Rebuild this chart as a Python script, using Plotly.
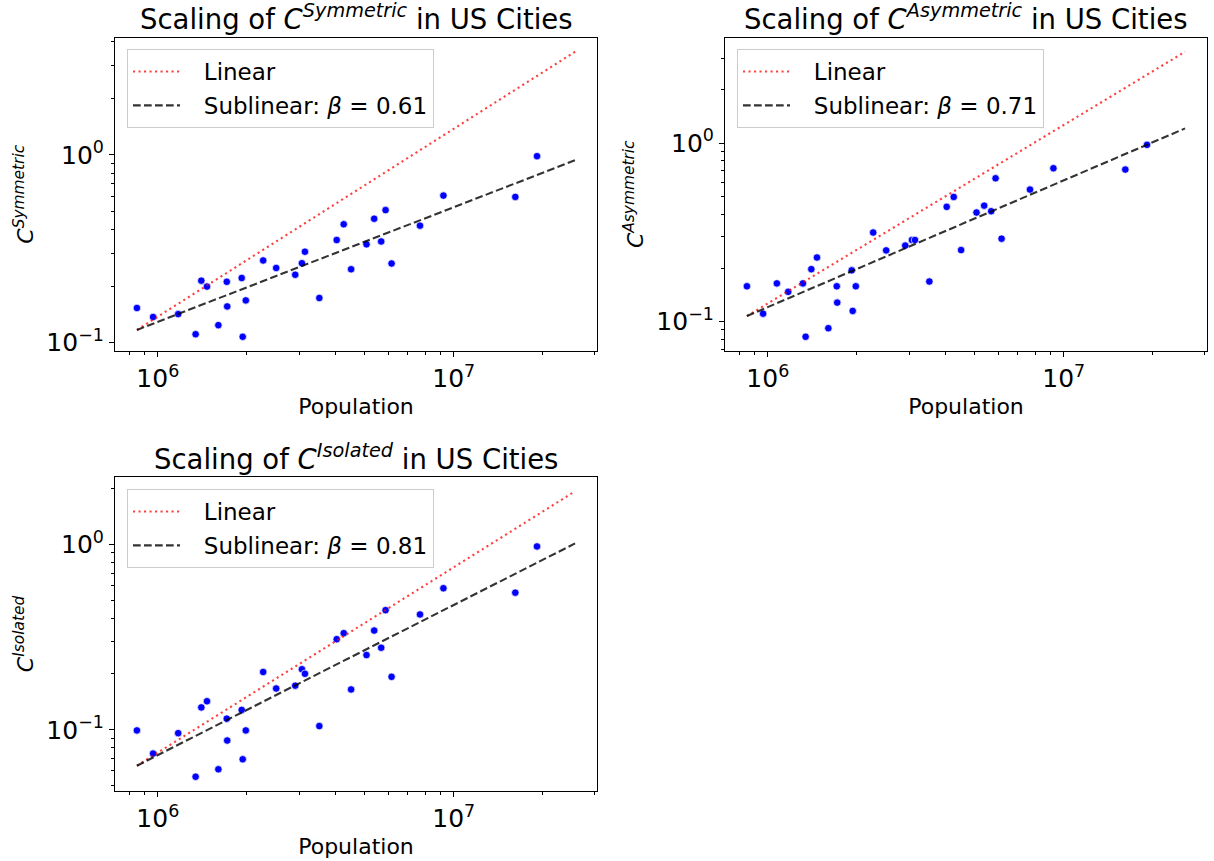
import numpy as np
import plotly.graph_objects as go

# Metro-area population and the three C measures (None = zero, not drawable on log scale)
population = [8.5e5, 9.64e5, 1.073e6, 1.172e6, 1.314e6, 1.342e6, 1.403e6, 1.466e6,
              1.602e6, 1.710e6, 1.716e6, 1.921e6, 1.936e6, 1.983e6, 2.270e6, 2.512e6,
              2.913e6, 3.069e6, 3.142e6, 3.514e6, 4.022e6, 4.248e6, 4.499e6, 5.072e6,
              5.384e6, 5.686e6, 5.883e6, 6.164e6, 7.689e6, 9.226e6, 1.614e7, 1.911e7]

c_symmetric = [0.153, 0.137, None, 0.142, None, 0.111, 0.214, 0.199,
               0.124, 0.211, 0.156, 0.221, 0.1076, 0.168, 0.274, 0.250,
               0.230, 0.265, 0.305, 0.173, 0.352, 0.427, 0.246, 0.334,
               0.457, 0.346, 0.508, 0.264, 0.420, 0.607, 0.597, 0.984]

c_asymmetric = [0.158, 0.111, 0.164, 0.147, 0.164, 0.0824, 0.197, 0.229,
                0.092, 0.158, 0.128, 0.194, 0.115, 0.158, 0.316, 0.251,
                0.267, 0.287, 0.287, 0.168, 0.440, 0.500, 0.252, 0.409,
                0.447, 0.416, 0.636, 0.292, 0.550, 0.724, 0.712, 0.979]

c_isolated = [0.0992, 0.0744, None, 0.0959, None, 0.0558, 0.132, 0.1425,
              0.0612, 0.1148, 0.0875, 0.128, 0.0693, 0.0992, 0.205, 0.167,
              0.173, 0.212, 0.2005, 0.1047, 0.308, 0.332, 0.165, 0.253,
              0.343, 0.277, 0.442, 0.193, 0.419, 0.580, 0.549, 0.975]

measure_names = ["Symmetric", "Asymmetric", "Isolated"]
betas = [0.61, 0.71, 0.81]
fit_start = [0.117, 0.1076, 0.064]      # reference-line value at the smallest city
fit_x = [8.5e5, 2.57e7]

x_tick_vals = [1e6, 1e7]
x_tick_text = ["10<sup>6</sup>", "10<sup>7</sup>"]
y_tick_vals = [0.1, 1.0]
y_tick_text = ["10<sup>\u22121</sup>", "10<sup>0</sup>"]

W, H = 1214, 861
FONT = "DejaVu Sans"
LEGEND_GAP = "\u2002\u00a0"   # space between legend line sample and its label

# axes boxes in pixels: (left, right, top, bottom)
boxes = [(115, 597, 37.5, 351), (725, 1207, 37.5, 351), (115, 597, 477, 791)]
legend_pos = [(127, 49), (737, 49), (127, 489)]


def minor_vals(lo, hi):
    vals = []
    for d in range(int(np.floor(lo)) - 1, int(np.ceil(hi)) + 1):
        for k in range(2, 10):
            vals.append(k * 10.0 ** d)
    return vals


def log_range(values):
    lv = np.log10([v for v in values if v is not None])
    lo, hi = lv.min(), lv.max()
    pad = 0.05 * (hi - lo)
    return [lo - pad, hi + pad]


fig = go.Figure()
series = [c_symmetric, c_asymmetric, c_isolated]
annotations = []

for i, (name, vals, beta, c0) in enumerate(zip(measure_names, series, betas, fit_start)):
    ax = "" if i == 0 else str(i + 1)
    leg = "legend" if i == 0 else f"legend{i + 1}"
    fx = np.array(fit_x)
    lin_y = c0 * fx / fx[0]
    sub_y = c0 * (fx / fx[0]) ** beta

    fig.add_trace(go.Scatter(
        x=population, y=vals, mode="markers", xaxis="x" + ax, yaxis="y" + ax,
        marker=dict(color="blue", size=7.5, line=dict(color="white", width=0.7)),
        showlegend=False, hoverinfo="skip"))
    fig.add_trace(go.Scatter(
        x=fx, y=lin_y, mode="lines", xaxis="x" + ax, yaxis="y" + ax,
        line=dict(color="rgba(255,0,0,0.75)", width=2.1, dash="2.1px,3.4px"),
        name=LEGEND_GAP + "Linear", legend=leg, legendgroup=f"lin{i}"))
    fig.add_trace(go.Scatter(
        x=fx, y=sub_y, mode="lines", xaxis="x" + ax, yaxis="y" + ax,
        line=dict(color="rgba(0,0,0,0.8)", width=2.1, dash="7.7px,3.3px"),
        name=LEGEND_GAP + f"Sublinear: <i>\u03b2</i> = {beta:.2f}",
        legend=leg, legendgroup=f"sub{i}"))

    left, right, top, bottom = boxes[i]
    xdom = [left / W, right / W]
    ydom = [1 - bottom / H, 1 - top / H]
    xr = log_range(population[:1] + [fit_x[1]])
    yr = log_range([v for v in vals if v is not None] + list(lin_y) + list(sub_y))

    axis_common = dict(
        type="log", showgrid=False, zeroline=False, showline=True, mirror=True,
        linecolor="black", linewidth=1.1, ticks="outside", ticklen=5, tickwidth=1.1,
        tickcolor="black", automargin=False,
        tickfont=dict(family=FONT, size=25, color="black"),
    )
    fig.update_layout(**{
        "xaxis" + ax: dict(
            axis_common, domain=xdom, range=xr, anchor="y" + ax,
            tickmode="array", tickvals=x_tick_vals, ticktext=x_tick_text,
            minor=dict(ticks="outside", ticklen=3, tickwidth=0.8, tickcolor="black",
                       tickmode="array", tickvals=minor_vals(*xr), showgrid=False),
            title=dict(text="Population", font=dict(family=FONT, size=22, color="black"),
                       standoff=6)),
        "yaxis" + ax: dict(
            axis_common, domain=ydom, range=yr, anchor="x" + ax,
            tickmode="array", tickvals=y_tick_vals, ticktext=y_tick_text,
            minor=dict(ticks="outside", ticklen=3, tickwidth=0.8, tickcolor="black",
                       tickmode="array", tickvals=minor_vals(*yr), showgrid=False),
            title=dict(text=f"<i>C</i><sup><i>{name}</i></sup>",
                       font=dict(family=FONT, size=22, color="black"), standoff=6)),
    })

    lx, ly = legend_pos[i]
    fig.update_layout(**{leg: dict(
        x=lx / W, y=1 - ly / H, xanchor="left", yanchor="top",
        bgcolor="rgba(255,255,255,0.8)", bordercolor="#cccccc", borderwidth=1,
        font=dict(family=FONT, size=23, color="black"),
        traceorder="grouped", tracegroupgap=1, itemwidth=47)})

    annotations.append(dict(
        text=f"Scaling of <i>C</i><sup><i>{name}</i></sup> in US Cities",
        x=(xdom[0] + xdom[1]) / 2, y=ydom[1], xref="paper", yref="paper",
        xanchor="center", yanchor="bottom", yshift=0, showarrow=False,
        font=dict(family=FONT, size=27.5, color="black")))

fig.update_layout(
    width=W, height=H, margin=dict(l=0, r=0, t=0, b=0),
    paper_bgcolor="white", plot_bgcolor="white",
    font=dict(family=FONT, color="black"),
    annotations=annotations,
)

fig.write_html("out.html")
